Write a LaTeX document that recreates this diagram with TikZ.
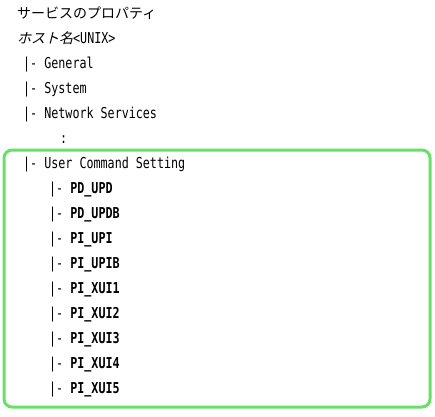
\documentclass[tikz,border=0pt]{standalone}
\usepackage{fontspec}
\newfontfamily\jpfont{Noto Sans CJK JP}
\newfontfamily\monofont[FakeStretch=0.78]{DejaVu Sans Mono}
\definecolor{boxgreen}{RGB}{104,224,104}
\tikzset{
  line/.style={anchor=base west, inner sep=0pt, font=\monofont\fontsize{15}{17}\selectfont},
  jpline/.style={anchor=base west, inner sep=0pt, font=\jpfont\fontsize{14}{16}\selectfont},
  groupbox/.style={draw=boxgreen, line width=3pt, rounded corners=8pt}
}
\begin{document}
\begin{tikzpicture}[x=1pt,y=-1pt]
\useasboundingbox (0,0) rectangle (435,416);
\draw[groupbox] (4,150) rectangle (430,407);
\node[jpline] (title) at (17,18.5) {サービスのプロパティ};
\begin{scope}[shift={(17,43.5)}, xslant=0.25]
\node[jpline, transform shape] (host) at (0,0) {ホスト名};
\end{scope}
\node[line] (unix) at (73,43.5) {<UNIX>};
\node[line] (gen) at (23,68.5) {|- General};
\node[line] (sys) at (23,93.5) {|- System};
\node[line] (net) at (23,118.5) {|- Network Services};
\node[line] (dots) at (60,143.5) {:};
\node[line] (ucs) at (23,168.5) {|- User Command Setting};
\node[line] (a1) at (49,193.5) {|- \textbf{PD\_UPD}};
\node[line] (a2) at (49,218.5) {|- \textbf{PD\_UPDB}};
\node[line] (a3) at (49,243.5) {|- \textbf{PI\_UPI}};
\node[line] (a4) at (49,268.5) {|- \textbf{PI\_UPIB}};
\node[line] (a5) at (49,293.5) {|- \textbf{PI\_XUI1}};
\node[line] (a6) at (49,318.5) {|- \textbf{PI\_XUI2}};
\node[line] (a7) at (49,343.5) {|- \textbf{PI\_XUI3}};
\node[line] (a8) at (49,368.5) {|- \textbf{PI\_XUI4}};
\node[line] (a9) at (49,393.5) {|- \textbf{PI\_XUI5}};
\end{tikzpicture}
\end{document}
